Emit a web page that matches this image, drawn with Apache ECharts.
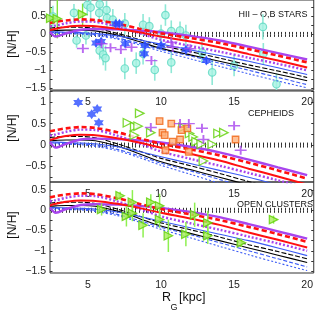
<!DOCTYPE html>
<html><head><meta charset="utf-8">
<script src="https://cdn.jsdelivr.net/npm/echarts@6/dist/echarts.min.js"></script>
<style>html,body{margin:0;padding:0;background:#fff}#c{width:316px;height:327px}</style>
</head><body><div id="c"></div>
<script>
// ---------- model curves (shared by all three panels) ----------
const modelR      = [2.4, 2.8, 3.5, 4.5, 5.5, 7, 8.5, 10, 12, 14, 16, 18, 20];
const redDashed   = [0.32, 0.35, 0.39, 0.42, 0.40, 0.30, 0.16, 0.03, -0.10, -0.24, -0.41, -0.59, -0.78];
const redSolid    = [0.12, 0.16, 0.21, 0.24, 0.23, 0.16, 0.06, -0.06, -0.20, -0.36, -0.55, -0.73, -0.92];
const purpleDot   = [0.22, 0.25, 0.31, 0.36, 0.35, 0.22, 0.04, -0.15, -0.32, -0.48, -0.65, -0.82, -1.00];
const purpleSolid = [0.07, -0.06, 0.03, 0.13, 0.15, 0.14, 0.11, 0.06, -0.04, -0.17, -0.34, -0.52, -0.70];
const blackDashed = [0.18, 0.19, 0.20, 0.20, 0.17, 0.03, -0.14, -0.31, -0.48, -0.66, -0.85, -1.02, -1.20];
const blackSolid  = [0.10, 0.11, 0.12, 0.12, 0.10, -0.02, -0.20, -0.39, -0.57, -0.75, -0.93, -1.11, -1.29];
const blueSolid   = [0.07, 0.07, 0.06, 0.05, 0.03, -0.04, -0.15, -0.27, -0.43, -0.59, -0.75, -0.93, -1.12];
const blueDashed  = [0.05, 0.05, 0.04, 0.03, 0.00, -0.10, -0.25, -0.42, -0.60, -0.80, -1.00, -1.20, -1.40];
const blueDotted  = [0.03, 0.03, 0.02, 0.01, -0.03, -0.13, -0.29, -0.47, -0.68, -0.89, -1.10, -1.30, -1.49];

// ---------- panel 1: HII regions, OB stars  [R, N/H, err] ----------
const hiiRegions = [[2.6,0.50,0.3],[4.04,0.60,0.25],[4.22,-0.17,0.2],[4.86,-0.03,0.25],[4.95,0.82,0.3],[5.18,0.75,0.3],
  [5.77,0.60,0.3],[5.8,0.84,0.3],[5.8,-0.45,0.25],[6.04,-0.56,0.3],[6.2,-0.66,0.35],[6.3,0.46,0.3],[6.27,0.68,0.25],
  [6.7,0.41,0.3],[7.52,0.30,0.3],[7.52,-0.95,0.3],[8.3,-0.80,0.3],[8.77,0.27,0.3],[8.77,-0.54,0.3],[9.57,-0.99,0.3],
  [9.2,0.23,0.25],[10.0,0.02,0.25],[10.3,0.54,0.3],[10.7,0.09,0.3],[10.7,-0.78,0.3],[11.3,0.11,0.25],[11.7,-0.03,0.3],
  [12.8,-0.50,0.3],[13.5,-1.06,0.35],[15.0,-0.87,0.3],[16.97,0.21,0.35],[17.0,-0.54,0.3],[17.9,-1.39,0.3]];
const obStarsBlue = [[6.9,0.30,0.1],[7.15,0.30,0.1],[5.55,-0.24,0.1],[5.9,-0.20,0.1],[7.55,-0.26,0.1],[8.9,-0.31,0.1],
  [8.85,-0.54,0.1],[10.0,-0.31,0.1],[11.7,-0.43,0.1],[13.1,-0.73,0.1]];
const obStarsPurple = [[4.65,-0.39],[5.93,-0.26],[6.54,-0.37],[7.25,-0.42],[7.98,-0.36],[9.34,-0.73],[10.8,-0.36],[12.0,-0.40],[10.7,-0.22]];
const youngGreen1 = [[2.45,0.45,0.3],[2.9,0.44,0.55],[4.63,0.56,0.3]];

// ---------- panel 2: Cepheids ----------
const cephBlue = [[4.33,0.99],[5.25,0.72],[5.63,0.84],[5.74,0.52]];
const cephGreen = [[7.7,0.52],[8.17,0.23],[8.2,0.43],[8.43,0.44],[8.54,0.74],[9.3,0.29],[11.5,0.41],[11.95,0.27],
  [12.2,0.19],[12.4,0.08],[12.75,0.02],[12.9,-0.37],[13.5,0.02],[13.9,0.27],[14.3,0.29]];
const cephOrange = [[9.9,0.56],[10.1,0.29],[10.25,0.23],[10.3,-0.12],[10.7,0.50],[10.8,0.08],[11.3,0.13],[11.4,0.35],
  [11.8,0.39],[11.9,-0.16],[15.1,0.13]];
const cephPurple = [[9.3,0.41],[11.3,0.50],[11.9,0.50],[12.8,0.39],[12.9,0.13],[15.0,0.45],[15.45,-0.12]];

// ---------- panel 3: open clusters [R, N/H, err] ----------
const openClusters = [[5.93,0.02,0.15],[7.2,0.36,0.1],[7.63,-0.15,0.25],[8.04,0.20,0.3],[8.04,-0.07,0.2],[8.77,-0.37,0.3],
  [9.3,0.20,0.2],[9.9,0.11,0.3],[9.9,-0.23,0.2],[10.5,-0.63,0.4],[11.7,-0.59,0.3],[12.3,-0.11,0.3],[13.2,-0.31,0.3],
  [13.2,-0.63,0.2],[15.5,-0.80,0.1],[17.7,-0.23,0.1]];

// ---------- axes ----------
const xLabels = [5, 10, 15, 20];
const yLabels = [[-1.5,-1,-0.5,0,0.5],[-0.5,0,0.5,1],[-1.5,-1,-0.5,0,0.5]];
const panelText = ['HII – O,B STARS', 'CEPHEIDS', 'OPEN CLUSTERS'];

const X_MIN = 2.4, X_MAX = 20.45;
const panels = [
  {yMin:-1.55, yMax:0.96, top:0, height:90},
  {yMin:-0.86, yMax:1.26, top:91, height:91},
  {yMin:-1.55, yMax:0.70, top:182, height:91}
];
function steps(a, b, s){ const r=[]; for(let v=Math.ceil(a/s)*s; v<=b+1e-9; v+=s) r.push(+v.toFixed(4)); return r; }
const FONT = 'Liberation Sans, Arial, sans-serif';
const fmt = v => (v < 0 ? '\u2212' + Math.abs(v) : String(v));

const grid = [], xAxis = [], yAxis = [], series = [];
panels.forEach((p, i) => {
  grid.push({left:50, width:265, top:p.top, height:p.height, show:true, borderColor:'#333', borderWidth:1, backgroundColor:'transparent'});
  const tickStyle = {color:'#333', width:1};
  xAxis.push({gridIndex:i, type:'value', min:X_MIN, max:X_MAX, position:'bottom',
    axisLine:{show:false}, splitLine:{show:false},
    axisTick:{inside:true, length:2.5, customValues:steps(X_MIN, X_MAX, 0.25), lineStyle:tickStyle},
    axisLabel:{customValues:xLabels, fontSize:10.5, color:'#222', margin:7, fontFamily:FONT}});
  xAxis.push({gridIndex:i, type:'value', min:X_MIN, max:X_MAX, position:'top',
    axisLine:{show:false}, splitLine:{show:false}, axisLabel:{show:false},
    axisTick:{inside:true, length:2.5, customValues:steps(X_MIN, X_MAX, 0.25), lineStyle:tickStyle}});
  yAxis.push({gridIndex:i, type:'value', min:p.yMin, max:p.yMax, position:'left',
    axisLine:{show:false}, splitLine:{show:false},
    axisTick:{inside:true, length:2.5, customValues:steps(p.yMin, p.yMax, 0.25), lineStyle:tickStyle},
    axisLabel:{customValues:yLabels[i], fontSize:10.5, color:'#222', margin:4, fontFamily:FONT, formatter:fmt}});
  yAxis.push({gridIndex:i, type:'value', min:p.yMin, max:p.yMax, position:'right',
    axisLine:{show:false}, splitLine:{show:false}, axisLabel:{show:false},
    axisTick:{inside:true, length:2.5, customValues:steps(p.yMin, p.yMax, 0.25), lineStyle:tickStyle}});
});

function errBars(data, pi, color, width, z){
  const yMin = panels[pi].yMin, yMax = panels[pi].yMax;
  return {type:'custom', xAxisIndex:pi*2, yAxisIndex:pi*2, z:z, silent:true, data:data,
    encode:{x:0, y:1},
    renderItem:(params, api) => {
      const x = api.value(0), y = api.value(1), e = api.value(2);
      const lo = Math.max(y - e, yMin), hi = Math.min(y + e, yMax);
      const a = api.coord([x, lo]), b = api.coord([x, hi]);
      return {type:'line', shape:{x1:a[0], y1:a[1], x2:b[0], y2:b[1]}, style:{stroke:color, lineWidth:width}};
    }};
}
function scatter(data, pi, opts, z){
  return Object.assign({type:'scatter', xAxisIndex:pi*2, yAxisIndex:pi*2, z:z, silent:true,
    data:data.map(d => [d[0], d[1]])}, opts);
}
const curves = [
  {d:blueDotted,  c:'#3b5bf5', w:1.1, t:[2,2]},
  {d:blueDashed,  c:'#3b5bf5', w:1.1, t:[4,2]},
  {d:blackSolid,  c:'#000000', w:1.1, t:'solid'},
  {d:blackDashed, c:'#000000', w:1.1, t:[5,2]},
  {d:blueSolid,   c:'#3b5bf5', w:1.1, t:'solid'},
  {d:purpleDot,   c:'#a845ee', w:2.4, t:[2,2]},
  {d:purpleSolid, c:'#a845ee', w:2.4, t:'solid'},
  {d:redSolid,    c:'#ff1010', w:2.0, t:'solid'},
  {d:redDashed,   c:'#ff1010', w:2.6, t:[5,3]}
];
const hexagram = 'path://M0,-10 L8.66,5 L-8.66,5 Z M0,10 L-8.66,-5 L8.66,-5 Z';
const plus = 'path://M-1.6,-10 L1.6,-10 L1.6,-1.6 L10,-1.6 L10,1.6 L1.6,1.6 L1.6,10 L-1.6,10 L-1.6,1.6 L-10,1.6 L-10,-1.6 L-1.6,-1.6 Z';
const cyanStyle = {symbol:'circle', symbolSize:7.5, itemStyle:{color:'#a6f2e2', borderColor:'#5ed8c2', borderWidth:1.2}};
const blueStyle = {symbol:hexagram, symbolSize:10, itemStyle:{color:'#2a4cff'}};
const purpleStyle = {symbol:plus, symbolSize:[12,9], itemStyle:{color:'#a845ee'}};
const greenFilled = {symbol:'triangle', symbolRotate:-90, symbolSize:8.5, itemStyle:{color:'#a8ee5a', borderColor:'#5cd000', borderWidth:1.2}};
const greenHollow = {symbol:'triangle', symbolRotate:-90, symbolSize:8.5, itemStyle:{color:'#ffffff', borderColor:'#5cd000', borderWidth:1.3}};
const orangeStyle = {symbol:'rect', symbolSize:6.5, itemStyle:{color:'#ffb07a', borderColor:'#f06414', borderWidth:1.3}};

panels.forEach((p, i) => {
  curves.forEach(cv => series.push({type:'line', xAxisIndex:i*2, yAxisIndex:i*2, z:3, silent:true, smooth:0.3,
    symbol:'none', data:modelR.map((r, k) => [r, cv.d[k]]),
    lineStyle:{color:cv.c, width:cv.w, type:cv.t}}));
});
// panel 1
series.push(errBars(hiiRegions, 0, '#8fe8d6', 1.6, 1));
series.push(scatter(hiiRegions, 0, cyanStyle, 2));
series.push(errBars(youngGreen1, 0, '#7ee23a', 1.4, 1));
series.push(scatter(youngGreen1, 0, greenFilled, 4));
series.push(errBars(obStarsBlue, 0, '#2a4cff', 1.2, 4));
series.push(scatter(obStarsBlue, 0, blueStyle, 5));
series.push(scatter(obStarsPurple, 0, purpleStyle, 5));
// panel 2
series.push(scatter(cephBlue, 1, blueStyle, 5));
series.push(scatter(cephGreen, 1, greenHollow, 5));
series.push(scatter(cephOrange, 1, orangeStyle, 5));
series.push(scatter(cephPurple, 1, purpleStyle, 5));
// panel 3
series.push(errBars(openClusters, 2, '#8ef050', 1.5, 4));
series.push(scatter(openClusters, 2, greenFilled, 5));

const graphic = [
  {type:'text', x:13, y:44, rotation:Math.PI/2, style:{text:'[N/H]', font:'12px '+FONT, fill:'#111', align:'center', verticalAlign:'middle'}},
  {type:'text', x:13, y:128, rotation:Math.PI/2, style:{text:'[N/H]', font:'12px '+FONT, fill:'#111', align:'center', verticalAlign:'middle'}},
  {type:'text', x:13, y:225, rotation:Math.PI/2, style:{text:'[N/H]', font:'12px '+FONT, fill:'#111', align:'center', verticalAlign:'middle'}},
  {type:'text', x:273, y:15, style:{text:panelText[0], font:'9px '+FONT, fill:'#111', align:'center', verticalAlign:'middle'}},
  {type:'text', x:271, y:114, style:{text:panelText[1], font:'9px '+FONT, fill:'#111', align:'center', verticalAlign:'middle'}},
  {type:'text', x:275, y:205, style:{text:panelText[2], font:'9px '+FONT, fill:'#111', align:'center', verticalAlign:'middle'}},
  {type:'text', x:162, y:298, style:{text:'R', font:'12.5px '+FONT, fill:'#111', align:'left', verticalAlign:'middle'}},
  {type:'text', x:170.5, y:308, style:{text:'G', font:'9px '+FONT, fill:'#111', align:'left', verticalAlign:'middle'}},
  {type:'text', x:179, y:298, style:{text:'[kpc]', font:'12.5px '+FONT, fill:'#111', align:'left', verticalAlign:'middle'}}
];

const chart = echarts.init(document.getElementById('c'), null, {renderer:'canvas'});
chart.setOption({animation:false, backgroundColor:'#fff', grid, xAxis, yAxis, series, graphic});
</script>
</body></html>
